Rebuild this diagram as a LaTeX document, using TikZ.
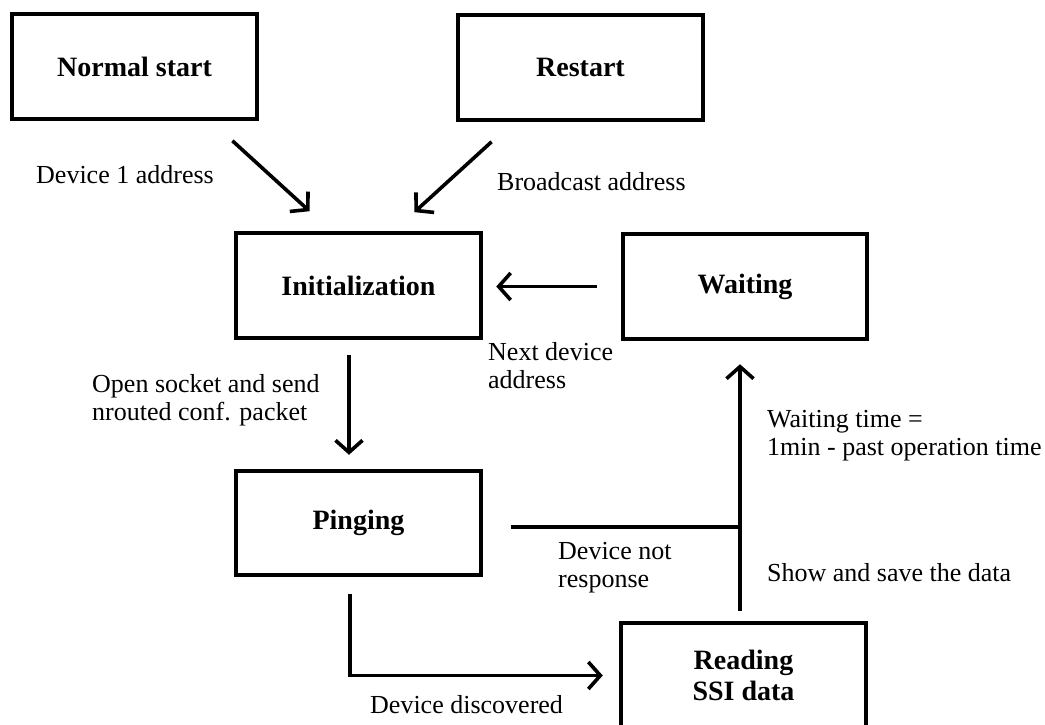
\documentclass[tikz,border=0pt]{standalone}
\usepackage{fontspec}
\setmainfont{Liberation Serif}
\usetikzlibrary{arrows.meta,calc}
\begin{document}
\begin{tikzpicture}[x=1pt,y=-1pt,
  box/.style={draw, line width=4.5pt, minimum width=245pt, minimum height=105pt, inner sep=0pt,
    font=\fontsize{28}{31}\selectfont\bfseries, align=center},
  lbl/.style={inner sep=0pt, anchor=west, align=left, font=\fontsize{26}{28}\selectfont},
  conn/.style={line width=3.6pt},
  arr/.style={conn, -{Straight Barb[length=12pt,width=27pt]}}
]
\clip (0,0) rectangle (1045,725);
\fill[white] (0,0) rectangle (1045,725);

\node[box] (ns) at (134.5,66.5) {Normal start};
\node[box] (rs) at (580.5,67.5) {Restart};
\node[box] (init) at (358.5,285.5) {Initialization};
\node[box, minimum width=244pt] (wait) at (745,286.5) {Waiting};
\node[box, minimum height=104pt] (ping) at (358.5,523) {Pinging};
\node[box] (rd) at (743.5,675.5) {Reading\\SSI data};

\draw[arr, shorten <=29pt, shorten >=29pt] ($(ns.south)+(76.5,0)$) -- ($(init.north)+(-27.5,0)$);
\draw[arr, shorten <=29pt, shorten >=27.6pt] ($(rs.south)+(-67.5,0)$) -- ($(init.north)+(35.5,0)$);
\draw[arr, shorten <=24pt, shorten >=13pt] (wait.west) -- (wait.west -| init.east);
\draw[arr, shorten <=15pt, shorten >=14pt] ($(init.south)+(-9.5,0)$) -- ($(ping.north)+(-9.5,0)$);
\coordinate (j) at ($(ping.east)+(259,4)$);
\draw[conn, shorten <=28pt] ($(ping.east)+(0,4)$) -- (j);
\draw[arr, shorten <=10pt, shorten >=23pt] ($(rd.north)+(-3.5,0)$) -- ($(wait.south)+(-5,0)$);
\draw[arr, shorten >=16pt] ($(ping.south)+(-8.5,17)$) |- (rd.west);

\node[lbl] (l1) at (36,175) {Device 1 address};
\node[lbl] (l2) at (497,182) {Broadcast address};
\node[lbl] (l3) at (488,366) {Next device\\address};
\node[lbl] (l4) at (92,400.5) {Open socket and send\\nrouted conf. packet};
\node[lbl] (l5) at (767,436) {Waiting time =\\1min - past operation time};
\node[lbl] (l6) at (558,567.5) {Device not\\response};
\node[lbl] (l7) at (767,573) {Show and save the data};
\node[lbl] (l8) at (370,705) {Device discovered};
\end{tikzpicture}
\end{document}
